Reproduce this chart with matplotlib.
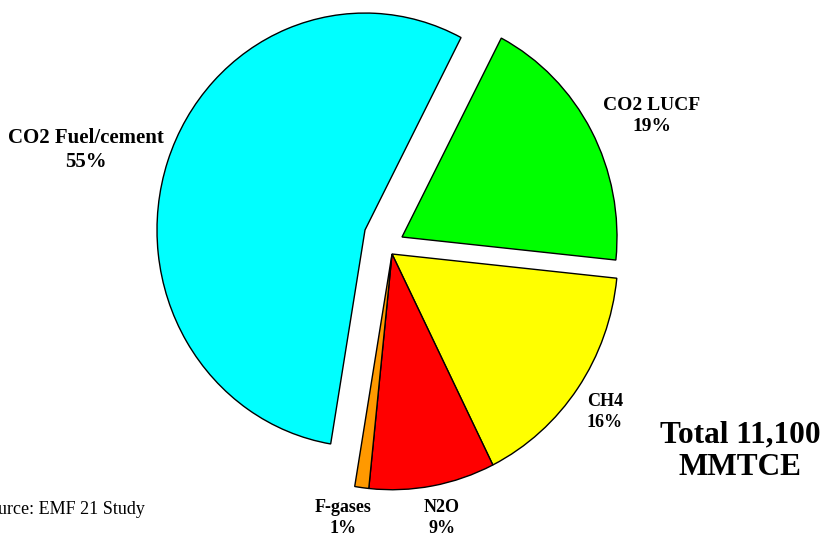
import matplotlib.pyplot as plt

W, H = 829, 538
YS = 1.043  # the pie is drawn slightly taller than wide

labels = ["CO2 LUCF", "CH4", "N2O", "F-gases", "CO2 Fuel/cement"]
shares = [19, 16, 9, 1, 55]
colors = ["#00ff00", "#ffff00", "#ff0000", "#ff9900", "#00ffff"]

# apex (pixels) and radius of each pulled-out slice
centers = [(402, 237), (392, 254), (392, 254), (392, 254), (365, 230)]
radii = [215, 226, 226, 226, 208]
label_pos = [(652, 116), (605, 412), (442, 518), (343, 518), (86, 150)]
label_size = [14, 13, 13, 13, 15]


def px(x, y):
    # pixel position (from top-left) -> data coords
    return x, (H - y) / YS


fig = plt.figure(figsize=(W / 100, H / 100), dpi=100)
ax = fig.add_axes([0, 0, 1, 1])

wedges, _ = ax.pie(shares, colors=colors, startangle=62.5, counterclock=False,
                   wedgeprops=dict(edgecolor="black", linewidth=1))
for w, c, r in zip(wedges, centers, radii):
    w.set_center(px(*c))
    w.set_radius(r)

ax.set_aspect("auto")
ax.set_xlim(0, W)
ax.set_ylim(0, H / YS)
ax.axis("off")

for lab, s, pos, fs in zip(labels, shares, label_pos, label_size):
    ax.text(*px(*pos), f"{lab}\n{s}%", ha="center", va="center",
            fontsize=fs, fontweight="bold", family="Liberation Serif",
            linespacing=1.25)

ax.text(*px(740, 451), "Total 11,100\nMMTCE", ha="center", va="center",
        fontsize=22.5, fontweight="bold", family="Liberation Serif",
        linespacing=1.15)

# source note runs off the left edge
ax.text(*px(145, 510), "Source: EMF 21 Study", ha="right", va="center",
        fontsize=13, family="Liberation Serif")

fig.savefig("out.png", dpi=100)
